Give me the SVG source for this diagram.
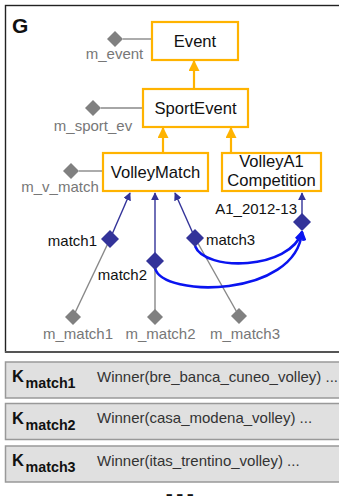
<svg xmlns="http://www.w3.org/2000/svg" width="339" height="496" viewBox="0 0 339 496">
<style>
.node rect{fill:#fff;stroke:#FFB300;stroke-width:2.2}
.nt{font-family:"Liberation Sans",Arial,sans-serif;font-size:16.6px;fill:#111;text-anchor:middle}
.pl{font-family:"Liberation Sans",Arial,sans-serif;font-size:15px;fill:#777}
.ml{font-family:"Liberation Sans",Arial,sans-serif;font-size:15px;fill:#111}
.gd{fill:#808080}
.nd{fill:#333399}
.inh{stroke:#FFB300;stroke-width:2.2;fill:none}
.gl{stroke:#888;stroke-width:1.4;fill:none}
.nl{stroke:#333399;stroke-width:1.4;fill:none}
.bl{stroke:#0a14f0;stroke-width:2.6;fill:none}
.row{fill:#e0e0e0;stroke:#999;stroke-width:1.5}
.k{font-family:"Liberation Sans",Arial,sans-serif;font-weight:bold;fill:#111}
.rt{font-family:"Liberation Sans",Arial,sans-serif;font-size:15px;fill:#333}
</style>
<defs>
<marker id="oa" markerUnits="userSpaceOnUse" markerWidth="11" markerHeight="11" viewBox="0 0 10 10" refX="9" refY="5" orient="auto"><path d="M0,0 L10,5 L0,10 z" fill="#FFB300"/></marker>
<marker id="na" markerUnits="userSpaceOnUse" markerWidth="8" markerHeight="8" viewBox="0 0 10 10" refX="9" refY="5" orient="auto"><path d="M0,0 L10,5 L0,10 z" fill="#333399"/></marker>
<marker id="ba" markerUnits="userSpaceOnUse" markerWidth="10" markerHeight="10" viewBox="0 0 10 10" refX="9" refY="5" orient="auto"><path d="M1,1 L9,5 L1,9" fill="none" stroke="#0a14f0" stroke-width="2.2"/></marker>
</defs>
<rect width="339" height="496" fill="#fff"/>
<rect id="G" x="5.5" y="5.5" width="340" height="346.5" fill="#fff" stroke="#222" stroke-width="1.4"/>
<line x1="5" y1="352" x2="339" y2="352" stroke="#555" stroke-width="2"/>
<text x="12" y="33" class="k" font-size="21">G</text>

<g id="connectors">
<line class="inh" x1="194" y1="89" x2="194" y2="61" marker-end="url(#oa)"/>
<line class="inh" x1="163" y1="153" x2="163" y2="128" marker-end="url(#oa)"/>
<line class="inh" x1="231" y1="153" x2="231" y2="128" marker-end="url(#oa)"/>
<line class="gl" x1="123" y1="39" x2="152" y2="39"/>
<line class="gl" x1="101" y1="108" x2="143" y2="108"/>
<line class="gl" x1="79" y1="171" x2="103" y2="171"/>
<line class="gl" x1="110" y1="239" x2="73" y2="317"/>
<line class="gl" x1="155" y1="261" x2="155" y2="317"/>
<line class="gl" x1="195" y1="238" x2="239" y2="316"/>
<line class="nl" x1="110" y1="239" x2="130" y2="193" marker-end="url(#na)"/>
<line class="nl" x1="155" y1="261" x2="155" y2="193" marker-end="url(#na)"/>
<line class="nl" x1="195" y1="238" x2="175" y2="193" marker-end="url(#na)"/>
<line class="nl" x1="302" y1="222" x2="302" y2="193" marker-end="url(#na)"/>
<path class="bl" d="M195,246 C205,272 290,270 302,232" marker-end="url(#ba)"/>
<path class="bl" d="M155,268 C162,298 296,298 302,232" marker-end="url(#ba)"/>
</g>

<g id="Event" class="node"><rect x="152" y="22" width="86" height="38"/><text class="nt" x="195" y="47">Event</text></g>
<g id="SportEvent" class="node"><rect x="143" y="89" width="105" height="38"/><text class="nt" x="195.5" y="114">SportEvent</text></g>
<g id="VolleyMatch" class="node"><rect x="103" y="153" width="105" height="38"/><text class="nt" x="155.5" y="178">VolleyMatch</text></g>
<g id="VolleyA1Competition" class="node"><rect x="222" y="153" width="99" height="38"/><text class="nt" x="271.5" y="167">VolleyA1</text><text class="nt" x="271.5" y="186">Competition</text></g>

<g id="m_event"><polygon class="gd" points="115,31 123,39 115,47 107,39"/><text class="pl" x="114.5" y="58.5" text-anchor="middle">m_event</text></g>
<g id="m_sport_ev"><polygon class="gd" points="93,100 101,108 93,116 85,108"/><text class="pl" x="93" y="131" text-anchor="middle">m_sport_ev</text></g>
<g id="m_v_match"><polygon class="gd" points="71,163 79,171 71,179 63,171"/><text class="pl" x="60" y="192" text-anchor="middle">m_v_match</text></g>

<g id="match1"><polygon class="nd" points="110,230 119,239 110,248 101,239"/><text class="ml" x="97" y="246" text-anchor="end">match1</text></g>
<g id="match2"><polygon class="nd" points="155,252 164,261 155,270 146,261"/><text class="ml" x="147" y="280" text-anchor="end">match2</text></g>
<g id="match3"><polygon class="nd" points="195,229 204,238 195,247 186,238"/><text class="ml" x="206" y="245">match3</text></g>
<g id="A1_2012-13"><polygon class="nd" points="302,213 311,222 302,231 293,222"/><text class="ml" x="297" y="214" text-anchor="end">A1_2012-13</text></g>

<g id="m_match1"><polygon class="gd" points="73,309 81,317 73,325 65,317"/><text class="pl" x="78" y="338.5" text-anchor="middle">m_match1</text></g>
<g id="m_match2"><polygon class="gd" points="155,309 163,317 155,325 147,317"/><text class="pl" x="160.5" y="338.5" text-anchor="middle">m_match2</text></g>
<g id="m_match3"><polygon class="gd" points="239,308 247,316 239,324 231,316"/><text class="pl" x="245" y="338.5" text-anchor="middle">m_match3</text></g>

<g id="K1"><rect class="row" x="5.5" y="362" width="340" height="36"/><text class="k" x="12" y="382" font-size="16.5">K</text><text class="k" x="25.5" y="388" font-size="14.3">match1</text><text class="rt" x="97" y="381.5">Winner(bre_banca_cuneo_volley) ...</text></g>
<g id="K2"><rect class="row" x="5.5" y="403.5" width="340" height="36"/><text class="k" x="12" y="423.5" font-size="16.5">K</text><text class="k" x="25.5" y="429.5" font-size="14.3">match2</text><text class="rt" x="97" y="423">Winner(casa_modena_volley) ...</text></g>
<g id="K3"><rect class="row" x="5.5" y="446" width="340" height="36"/><text class="k" x="12" y="466" font-size="16.5">K</text><text class="k" x="25.5" y="472" font-size="14.3">match3</text><text class="rt" x="97" y="465.5">Winner(itas_trentino_volley) ...</text></g>
<text class="k" x="164" y="499.5" font-size="38">...</text>
</svg>
